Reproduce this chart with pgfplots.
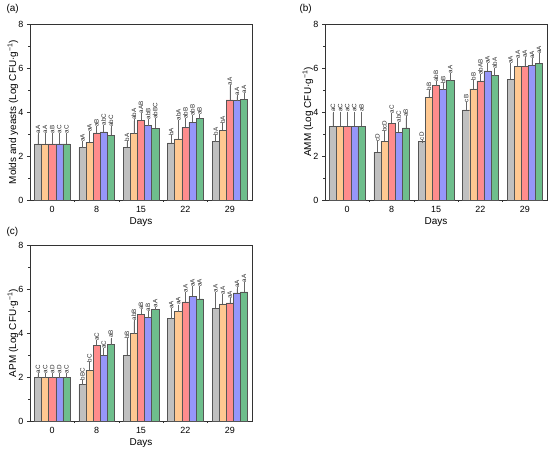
\documentclass[border=0pt]{standalone}
\usepackage{pgfplots}
\pgfplotsset{compat=1.18}
\usepackage{pgfplotstable}
\usepackage{fontspec}
\setmainfont{Liberation Sans}

\definecolor{cgrey}{RGB}{192,192,192}
\definecolor{corange}{RGB}{255,200,145}
\definecolor{cred}{RGB}{255,140,140}
\definecolor{cblue}{RGB}{150,150,250}
\definecolor{cgreen}{RGB}{110,190,140}
\definecolor{edge}{RGB}{85,85,85}

% x Av Ae Al (grey) Bv Be Bl (orange) Cv Ce Cl (red) Dv De Dl (blue) Ev Ee El (green)
\pgfplotstableread{
x Av Ae Al Bv Be Bl Cv Ce Cl Dv De Dl Ev Ee El
0 2.55 0.42 aA 2.55 0.42 aA 2.55 0.42 aB 2.55 0.42 aC 2.55 0.42 aC
1 2.38 0.22 aA 2.62 0.43 aA 3.05 0.22 aB 3.10 0.25 abC 2.95 0.32 abC
2 2.40 0.22 bA 3.02 0.58 abA 3.62 0.26 aAB 3.38 0.24 abB 3.27 0.38 abBC
3 2.60 0.26 bA 2.78 0.80 abA 3.30 0.35 abB 3.53 0.24 abB 3.70 0.12 aB
4 2.65 0.25 bA 3.18 0.24 bA 4.55 0.62 aA 4.52 0.18 aA 4.58 0.22 aA
}\tabA

\pgfplotstableread{
x Av Ae Al Bv Be Bl Cv Ce Cl Dv De Dl Ev Ee El
0 3.35 0.60 aC 3.35 0.60 aC 3.35 0.60 aC 3.35 0.60 aC 3.35 0.60 aB
1 2.18 0.42 cD 2.67 0.38 bcD 3.48 0.40 aC 3.08 0.39 abC 3.28 0.45 aB
2 2.65 0.02 cD 4.67 0.27 bB 5.20 0.12 abB 5.02 0.22 bB 5.43 0.27 aA
3 4.10 0.30 cB 5.05 0.35 bB 5.42 0.22 abAB 5.87 0.28 aA 5.65 0.27 abA
4 5.50 0.65 aA 6.08 0.30 aA 6.07 0.35 aA 6.12 0.25 aA 6.22 0.38 aA
}\tabB

\pgfplotstableread{
x Av Ae Al Bv Be Bl Cv Ce Cl Dv De Dl Ev Ee El
0 1.97 0.15 aC 1.97 0.15 aC 1.97 0.15 aD 1.97 0.15 aD 1.97 0.15 aC
1 1.65 0.15 bBC 2.30 0.32 bC 3.45 0.15 aC 2.98 0.25 aC 3.47 0.25 aB
2 3.00 0.68 bB 3.97 0.55 abB 4.85 0.15 aB 4.72 0.22 aB 5.07 0.04 aA
3 4.65 0.41 aA 4.97 0.25 aA 5.42 0.38 aA 5.67 0.39 aA 5.55 0.51 aA
4 5.13 0.67 aA 5.32 0.38 aA 5.37 0.13 aA 5.82 0.18 aA 5.87 0.39 aA
}\tabC

\newcommand{\series}[4]{%
  \addplot[fill=#4, draw=edge, line width=0.5pt, bar shift=#3,
    error bars/.cd, y dir=plus, y explicit,
    error bar style={color=gray!80!black, line width=0.5pt},
    error mark options={mark size=1.6pt, line width=0.5pt, gray!80!black}]
    table[x=x, y=#2v, y error=#2e] {#1};
  \addplot[draw=none, fill=none, bar shift=#3, nodes near coords,
    point meta=explicit symbolic]
    table[x=x, y expr=\thisrow{#2v}+\thisrow{#2e}, meta=#2l] {#1};
}
\newcommand{\allseries}[1]{%
  \series{#1}{A}{-0.32}{cgrey}
  \series{#1}{B}{-0.16}{corange}
  \series{#1}{C}{0}{cred}
  \series{#1}{D}{0.16}{cblue}
  \series{#1}{E}{0.32}{cgreen}
}

\pgfplotsset{panel/.style={
  width=222bp, height=176bp, scale only axis, anchor=south west,
  ybar, bar width=0.16,
  xmin=-0.5, xmax=4.5, ymin=0, ymax=8,
  ytick={0,2,4,6,8}, minor y tick num=1,
  xtick={0,...,4}, xticklabels={0,8,15,22,29},
  minor xtick={0.5,1.5,2.5,3.5},
  every major x tick/.append style={draw=none},
  ytick pos=left, xtick pos=bottom, tick align=outside,
  major tick length=3bp, minor tick length=2bp,
  axis line style={line width=0.6pt, black!80},
  tick style={black!80, line width=0.5pt},
  /pgf/number format/assume math mode=true,
  tick label style={font=\fontsize{9}{10}\selectfont},
  label style={font=\fontsize{11.5}{13}\selectfont},
  xlabel={Days},
  every axis x label/.style={at={(axis description cs:0.5,0)}, anchor=center, yshift=-22bp},
  every axis y label/.style={at={(axis description cs:-0.077,0.5)}, anchor=center, rotate=90},
  every node near coord/.append style={rotate=90, anchor=west, inner sep=1pt,
     font=\fontsize{6.3}{6.3}\selectfont, text=black!85},
  clip=false,
}}

\begin{document}
\begin{tikzpicture}
\useasboundingbox (0,0) rectangle (550bp,455bp);

\begin{axis}[panel, at={(30bp,255bp)}, ylabel={Molds and yeasts (Log CFU·g\textsuperscript{−1})}]
\allseries{\tabA}
\end{axis}

\begin{axis}[panel, at={(325bp,255bp)}, ylabel={AMM (Log CFU·g\textsuperscript{−1})}]
\allseries{\tabB}
\end{axis}

\begin{axis}[panel, at={(30bp,34bp)}, ylabel={APM (Log CFU·g\textsuperscript{−1})}]
\allseries{\tabC}
\end{axis}

\node[anchor=west, font=\fontsize{10}{12}\selectfont] at (3bp,446bp) {(a)};
\node[anchor=west, font=\fontsize{10}{12}\selectfont] at (296bp,446bp) {(b)};
\node[anchor=west, font=\fontsize{10}{12}\selectfont] at (3bp,223bp) {(c)};
\end{tikzpicture}
\end{document}
